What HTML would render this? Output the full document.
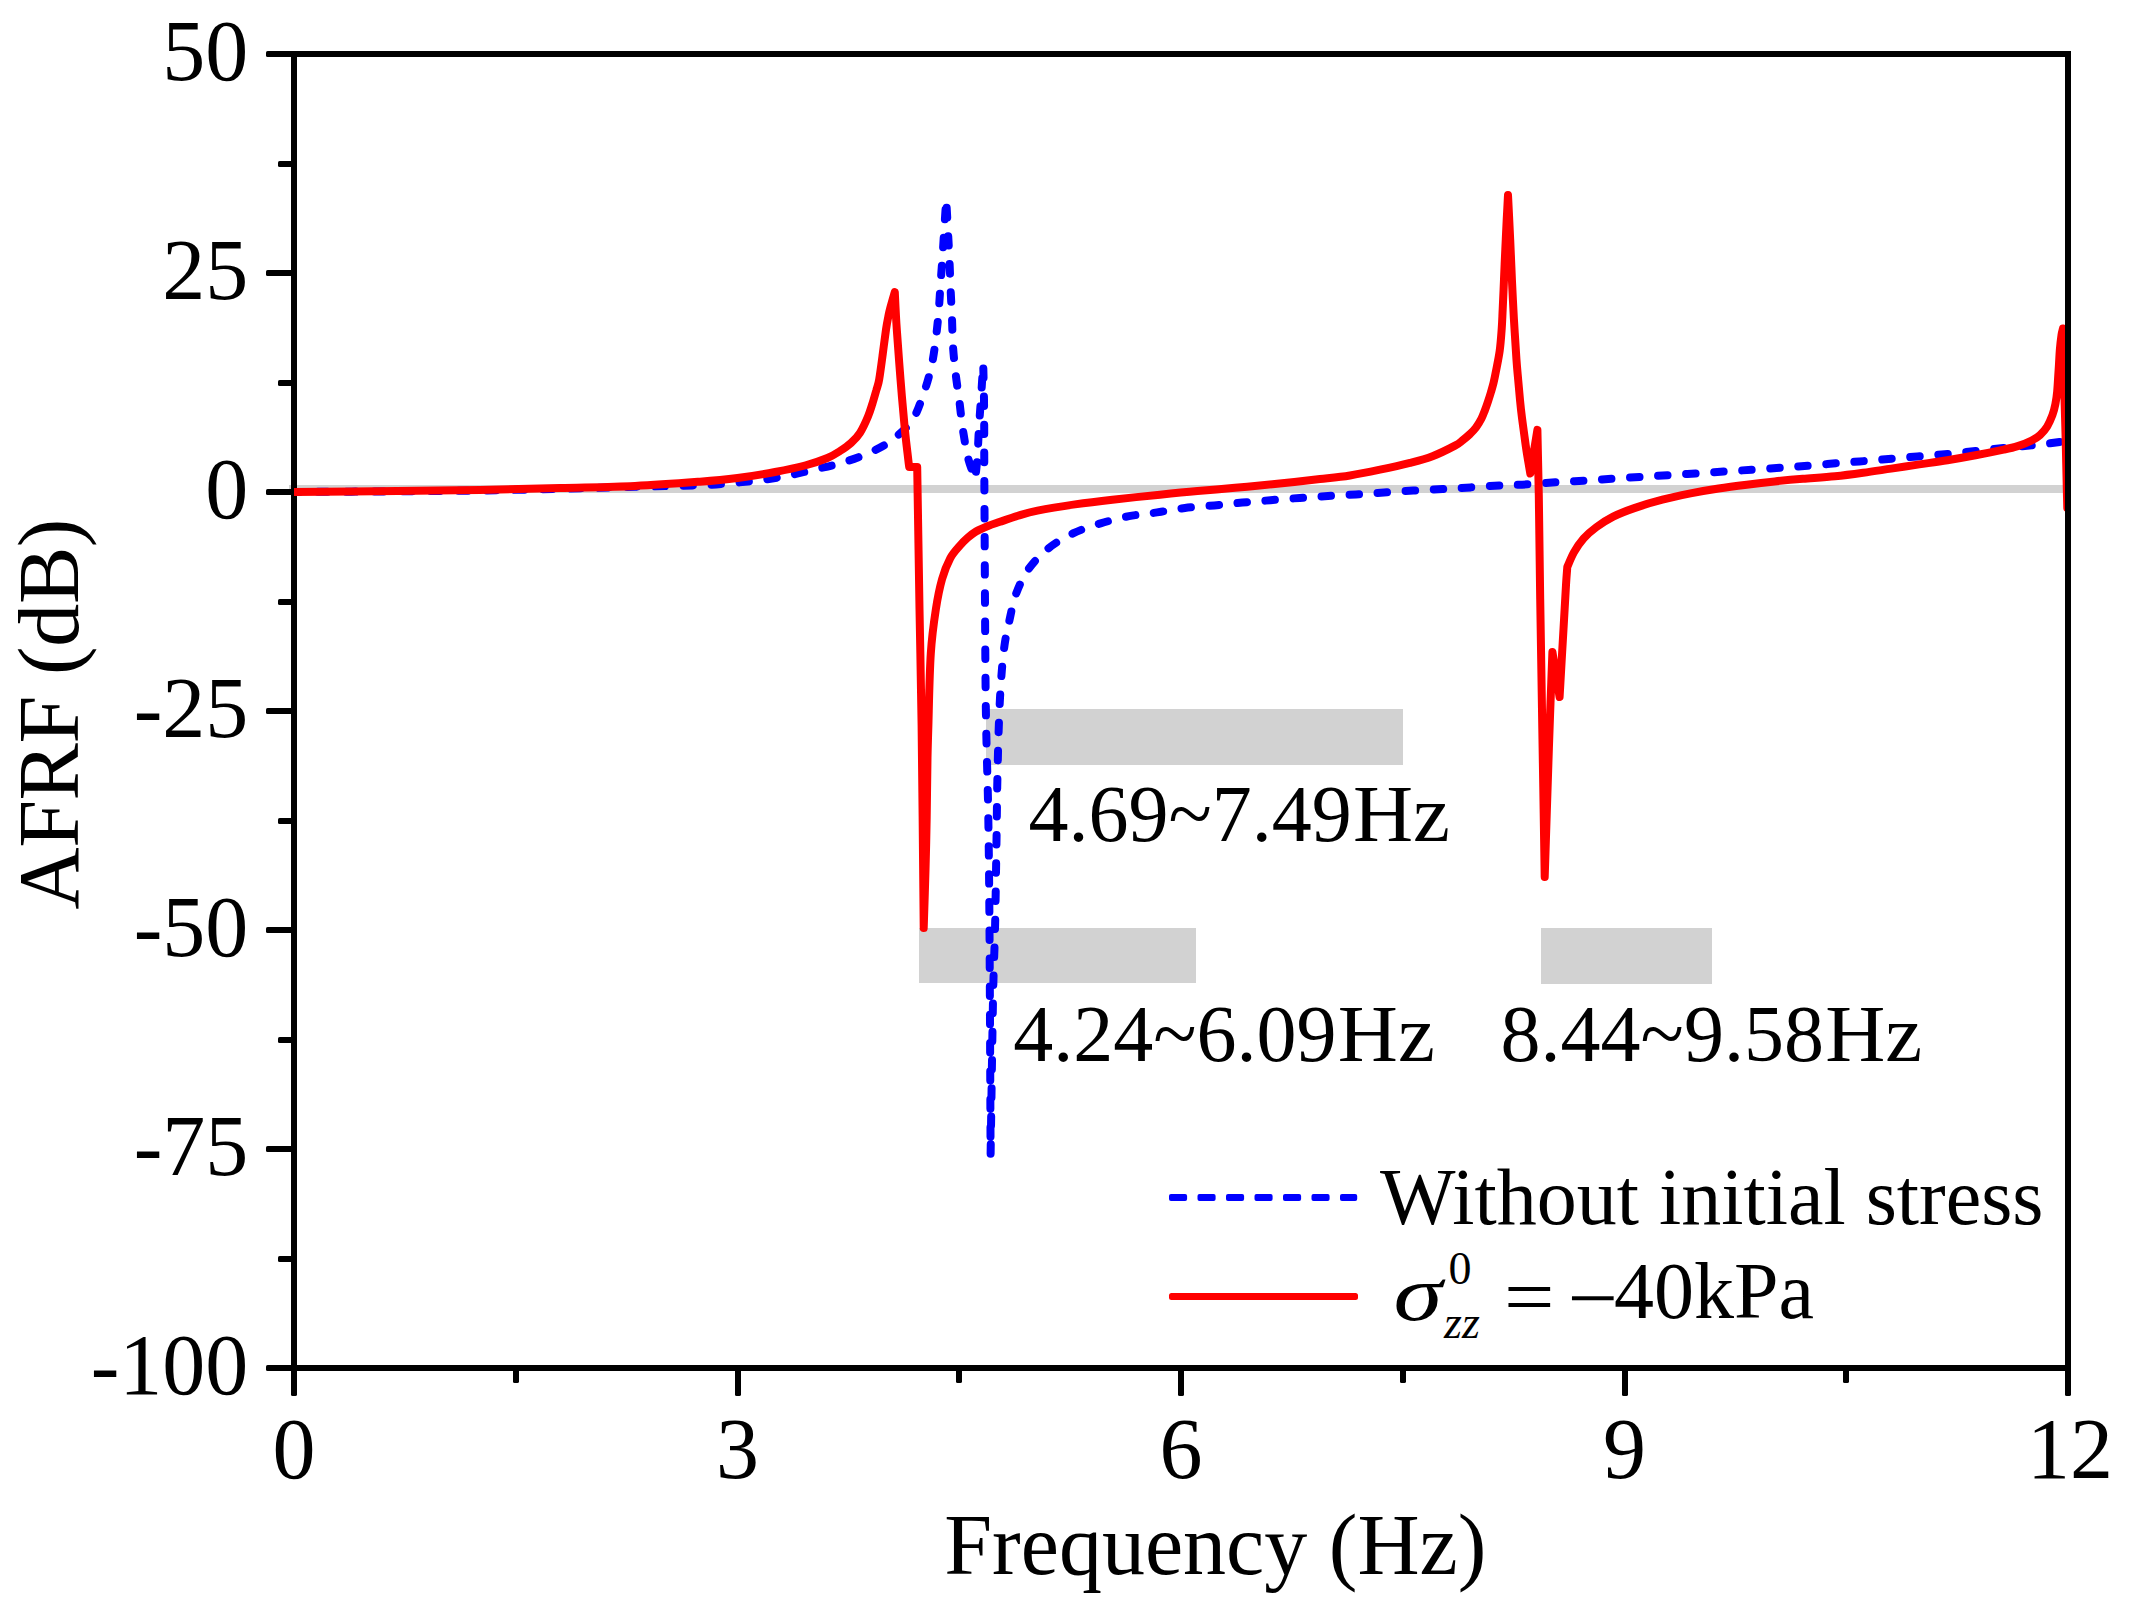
<!DOCTYPE html>
<html lang="en"><head><meta charset="utf-8"><title>AFRF vs Frequency</title>
<style>html,body{margin:0;padding:0;background:#fff;}svg{display:block;}text{font-family:'Liberation Serif', serif;fill:#000;}</style></head><body>
<svg width="2135" height="1612" viewBox="0 0 2135 1612">
<rect x="0" y="0" width="2135" height="1612" fill="#fff"/>
<g fill="#d2d2d2" shape-rendering="crispEdges">
<rect x="289" y="485" width="1779" height="8"/>
<rect x="986" y="709" width="416.5" height="55.5"/>
<rect x="919" y="928" width="277" height="55"/>
<rect x="1541" y="928" width="171" height="55.5"/>
</g>
<g fill="#000">
<rect x="291" y="51" width="6" height="1320"/>
<rect x="291" y="1365" width="1780" height="6"/>
<rect x="266" y="51" width="28" height="6" rx="1.6"/>
<rect x="278" y="161" width="16" height="6" rx="1.6"/>
<rect x="266" y="270" width="28" height="6" rx="1.6"/>
<rect x="278" y="380" width="16" height="6" rx="1.6"/>
<rect x="266" y="489" width="28" height="6" rx="1.6"/>
<rect x="278" y="599" width="16" height="6" rx="1.6"/>
<rect x="266" y="708" width="28" height="6" rx="1.6"/>
<rect x="278" y="818" width="16" height="6" rx="1.6"/>
<rect x="266" y="927" width="28" height="6" rx="1.6"/>
<rect x="278" y="1037" width="16" height="6" rx="1.6"/>
<rect x="266" y="1146" width="28" height="6" rx="1.6"/>
<rect x="278" y="1256" width="16" height="6" rx="1.6"/>
<rect x="266" y="1365" width="28" height="6" rx="1.6"/>
<rect x="291" y="1368" width="6" height="28" rx="1.6"/>
<rect x="513" y="1368" width="6" height="15" rx="1.6"/>
<rect x="735" y="1368" width="6" height="28" rx="1.6"/>
<rect x="956" y="1368" width="6" height="15" rx="1.6"/>
<rect x="1178" y="1368" width="6" height="28" rx="1.6"/>
<rect x="1400" y="1368" width="6" height="15" rx="1.6"/>
<rect x="1622" y="1368" width="6" height="28" rx="1.6"/>
<rect x="1843" y="1368" width="6" height="15" rx="1.6"/>
<rect x="2065" y="1368" width="6" height="28" rx="1.6"/>
</g>
<clipPath id="pc"><rect x="294" y="54" width="1777" height="1314"/></clipPath>
<g clip-path="url(#pc)" fill="none" stroke-linecap="round" stroke-linejoin="round" stroke-width="8">
<path d="M290.0 492.0 C307.8 491.9 365.3 491.6 397.0 491.3 C428.7 491.1 452.8 490.9 480.0 490.5 C507.2 490.1 534.2 489.4 560.0 488.8 C585.8 488.2 611.7 487.4 635.0 486.8 C658.3 486.2 684.0 485.8 700.0 485.2 C716.0 484.6 721.0 483.9 730.7 483.1 C740.5 482.3 749.2 481.6 758.5 480.4 C767.8 479.2 777.0 477.8 786.2 476.0 C795.5 474.2 804.7 471.8 814.0 469.6 C823.3 467.4 832.9 465.6 842.0 462.8 C851.1 460.0 860.5 456.7 868.7 453.0 C876.9 449.3 883.8 446.2 891.0 440.8 C898.2 435.4 906.6 428.2 912.0 420.5 C917.4 412.8 920.1 403.3 923.3 394.4 C926.5 385.5 929.2 376.1 931.3 367.0 C933.4 357.9 934.5 349.1 935.7 339.8 C936.9 330.5 937.9 321.0 938.7 311.3 C939.5 301.6 940.0 291.1 940.7 281.5 C941.4 271.9 942.1 263.1 942.7 254.0 C943.3 244.9 943.8 236.1 944.4 227.0 C945.0 217.9 945.9 204.2 946.2 199.6 C946.5 205.0 947.5 222.1 948.0 232.0 C948.5 241.9 949.0 249.5 949.4 259.0 C949.8 268.5 950.2 279.5 950.6 289.0 C951.0 298.5 951.5 306.5 951.9 316.0 C952.3 325.5 952.4 336.4 953.0 346.0 C953.6 355.6 954.6 364.2 955.6 373.3 C956.6 382.4 958.1 391.1 959.3 400.6 C960.5 410.1 961.5 420.9 963.0 430.4 C964.5 439.9 966.0 449.6 968.0 457.7 C970.0 465.8 974.0 475.5 975.2 479.1 C975.6 475.2 976.9 464.7 977.5 456.0 C978.1 447.3 978.4 436.7 979.0 427.0 C979.6 417.3 980.3 408.5 981.0 398.0 C981.7 387.5 982.8 369.7 983.2 364.0 C983.4 371.5 983.9 388.0 984.1 409.0 C984.3 430.0 984.1 441.8 984.4 490.0 C984.7 538.2 985.1 643.5 985.7 698.0 C986.4 752.5 987.7 778.3 988.3 817.0 C988.9 855.7 989.1 873.8 989.5 930.0 C989.9 986.2 990.4 1117.1 990.6 1154.5 C991.0 1128.8 992.3 1037.4 993.0 1000.0 C993.7 962.6 994.4 955.5 995.0 930.0 C995.6 904.5 996.0 870.7 996.4 847.0 C996.8 823.3 996.9 806.7 997.2 788.0 C997.6 769.3 998.0 750.0 998.5 735.0 C999.0 720.0 999.4 709.1 1000.0 698.0 C1000.6 686.9 1001.2 677.8 1002.0 668.5 C1002.8 659.2 1003.8 649.9 1005.0 642.0 C1006.2 634.1 1007.5 629.0 1009.3 621.0 C1011.1 613.0 1012.8 602.7 1016.0 594.0 C1019.2 585.3 1023.2 576.6 1028.6 569.0 C1034.0 561.4 1040.8 554.4 1048.3 548.4 C1055.8 542.4 1064.8 537.4 1073.5 533.2 C1082.2 529.0 1091.3 526.2 1100.6 523.4 C1109.8 520.6 1119.6 518.0 1129.0 516.2 C1138.4 514.4 1147.7 513.8 1157.0 512.4 C1166.3 511.0 1175.5 509.2 1185.0 508.0 C1194.5 506.8 1204.7 506.3 1214.3 505.4 C1223.9 504.5 1233.0 503.5 1242.4 502.6 C1251.8 501.7 1260.9 501.0 1270.5 500.2 C1280.1 499.4 1290.2 498.6 1299.8 497.9 C1309.4 497.2 1318.5 496.6 1327.9 496.0 C1337.3 495.4 1346.7 495.0 1356.0 494.4 C1365.3 493.8 1374.5 493.1 1384.0 492.5 C1393.5 491.9 1403.5 491.2 1413.3 490.6 C1423.1 490.0 1433.0 489.5 1442.6 489.0 C1452.2 488.5 1461.1 488.0 1470.7 487.4 C1480.3 486.8 1490.5 486.0 1500.0 485.5 C1509.5 485.0 1518.0 484.9 1527.5 484.3 C1537.0 483.8 1547.4 482.8 1557.0 482.2 C1566.6 481.6 1575.7 481.3 1585.1 480.7 C1594.5 480.1 1603.7 479.2 1613.2 478.6 C1622.7 478.0 1632.5 477.4 1642.0 476.8 C1651.5 476.2 1660.6 475.7 1670.1 475.1 C1679.6 474.5 1689.4 473.9 1699.0 473.3 C1708.6 472.7 1718.2 471.9 1727.7 471.3 C1737.2 470.7 1746.3 470.1 1755.8 469.5 C1765.3 468.9 1775.1 468.1 1784.6 467.4 C1794.1 466.7 1803.1 466.1 1812.7 465.3 C1822.3 464.5 1832.4 463.6 1842.0 462.8 C1851.6 462.0 1860.7 461.4 1870.1 460.6 C1879.5 459.8 1888.7 458.9 1898.2 458.1 C1907.7 457.3 1917.4 456.5 1927.0 455.7 C1936.6 454.9 1946.1 454.1 1955.6 453.2 C1965.1 452.3 1974.5 451.1 1984.0 450.1 C1993.5 449.1 2003.1 448.1 2012.7 447.1 C2022.3 446.2 2032.6 445.4 2041.5 444.4 C2050.4 443.4 2061.9 441.6 2066.0 441.0" stroke="#0000ff" stroke-dasharray="9.5 18.6"/>
<path d="M290.0 492.0 C307.8 491.8 365.3 491.3 397.0 491.0 C428.7 490.7 452.8 490.5 480.0 490.0 C507.2 489.5 534.2 488.8 560.0 488.1 C585.8 487.4 611.7 487.1 635.0 486.0 C658.3 484.9 682.9 483.0 700.0 481.7 C717.1 480.4 725.0 479.6 737.5 478.0 C750.0 476.4 763.8 474.1 775.0 472.0 C786.2 469.9 796.3 467.8 805.0 465.5 C813.7 463.2 821.6 460.4 827.4 458.0 C833.2 455.6 836.1 453.5 840.0 451.0 C843.9 448.5 847.7 446.0 851.0 443.0 C854.3 440.0 857.2 437.2 860.0 432.8 C862.8 428.4 866.0 421.3 868.0 416.5 C870.0 411.7 870.9 408.4 872.3 404.0 C873.7 399.6 875.2 394.1 876.4 390.0 C877.5 385.9 878.2 385.2 879.2 379.3 C880.2 373.4 881.6 362.7 882.7 354.4 C883.8 346.1 885.1 335.8 886.0 329.6 C886.9 323.4 887.5 320.6 888.2 317.2 C888.9 313.8 888.9 313.2 890.0 309.0 C891.1 304.8 894.0 294.8 894.8 292.0 C895.1 298.3 895.8 315.1 896.8 329.6 C897.8 344.2 899.2 362.8 900.5 379.3 C901.8 395.9 903.5 415.5 904.8 428.9 C906.1 442.3 907.6 453.5 908.3 459.9 C909.0 466.2 909.1 465.8 909.2 467.0 L917.2 467.0 C917.6 490.7 918.8 566.0 919.5 609.0 C920.2 652.0 920.9 671.8 921.6 725.0 C922.3 778.2 923.4 894.2 923.7 928.0 C924.0 918.3 925.0 888.5 925.5 870.0 C926.0 851.5 926.4 835.7 926.7 817.0 C927.0 798.3 927.2 773.3 927.5 758.0 C927.8 742.7 927.9 742.4 928.4 725.0 C928.9 707.6 929.5 672.9 930.8 653.6 C932.0 634.3 934.0 621.4 935.9 609.0 C937.8 596.6 939.7 587.5 942.1 579.0 C944.5 570.5 947.2 563.9 950.2 558.3 C953.2 552.7 957.1 548.9 960.0 545.5 C962.9 542.1 964.7 540.3 967.4 538.0 C970.1 535.7 972.6 533.5 976.0 531.5 C979.4 529.5 984.0 527.6 988.0 526.0 C992.0 524.4 995.0 523.5 1000.0 521.8 C1005.0 520.1 1011.8 517.7 1018.0 515.8 C1024.2 513.9 1028.0 512.5 1037.5 510.6 C1047.0 508.7 1062.5 506.2 1075.0 504.4 C1087.5 502.6 1098.2 501.3 1112.4 499.7 C1126.6 498.1 1145.8 496.1 1160.0 494.7 C1174.2 493.2 1185.0 492.1 1197.5 491.0 C1210.0 489.9 1222.5 488.9 1235.0 487.8 C1247.5 486.7 1258.2 485.6 1272.4 484.2 C1286.6 482.8 1307.1 480.6 1320.0 479.1 C1332.9 477.7 1340.0 477.1 1350.0 475.5 C1360.0 473.9 1370.0 471.8 1380.0 469.7 C1390.0 467.6 1401.2 465.1 1410.0 462.8 C1418.8 460.6 1425.0 459.1 1432.5 456.2 C1440.0 453.3 1449.9 448.3 1455.0 445.6 C1460.1 442.9 1460.5 441.9 1463.0 440.0 C1465.5 438.1 1467.8 436.1 1470.0 434.0 C1472.2 431.9 1474.1 430.1 1476.0 427.5 C1477.9 424.9 1480.0 421.4 1481.5 418.5 C1483.0 415.6 1483.9 412.8 1485.0 410.0 C1486.1 407.2 1487.0 404.5 1488.0 401.5 C1489.0 398.5 1490.1 395.1 1491.0 392.0 C1491.9 388.9 1492.7 386.2 1493.5 383.0 C1494.3 379.8 1494.7 378.0 1495.7 372.6 C1496.7 367.2 1498.7 358.0 1499.7 350.7 C1500.7 343.4 1501.2 335.8 1501.7 328.9 C1502.2 321.9 1502.3 317.3 1502.7 309.0 C1503.1 300.7 1503.6 289.2 1504.0 279.3 C1504.4 269.4 1504.8 259.4 1505.3 249.5 C1505.8 239.6 1506.2 228.8 1506.7 219.7 C1507.2 210.6 1507.8 199.1 1508.0 195.0 C1508.4 202.4 1509.5 225.5 1510.2 239.6 C1510.9 253.7 1511.3 266.1 1511.9 279.3 C1512.5 292.5 1513.2 305.8 1513.9 319.0 C1514.7 332.2 1515.7 348.5 1516.4 358.7 C1517.1 368.9 1517.6 373.1 1518.2 380.0 C1518.8 386.9 1519.4 393.7 1520.0 400.0 C1520.6 406.3 1521.2 411.9 1522.0 418.0 C1522.8 424.1 1523.7 430.5 1524.5 436.5 C1525.3 442.5 1526.0 447.8 1527.0 454.0 C1528.0 460.2 1529.8 470.2 1530.3 473.5 L1537.4 429.9 C1537.6 440.8 1538.3 466.8 1538.8 495.0 C1539.3 523.2 1539.6 561.0 1540.2 599.0 C1540.8 637.0 1541.5 676.7 1542.2 723.0 C1543.0 769.3 1544.3 851.3 1544.7 877.0 C1545.4 855.5 1547.9 777.0 1548.9 748.0 C1549.9 719.0 1549.9 719.0 1550.5 703.0 C1551.1 687.0 1552.1 660.5 1552.4 652.0 L1559.6 697.0 C1560.2 685.7 1562.4 647.7 1563.5 629.0 C1564.6 610.3 1565.4 595.3 1566.0 585.0 C1566.6 574.7 1567.1 570.0 1567.3 567.0 C1568.4 564.6 1571.2 557.2 1573.9 552.4 C1576.6 547.6 1580.0 542.6 1583.7 538.4 C1587.5 534.2 1591.5 530.7 1596.4 527.1 C1601.3 523.5 1606.9 519.8 1613.2 516.6 C1619.5 513.4 1626.1 510.9 1634.3 508.1 C1642.5 505.3 1653.0 502.1 1662.4 499.7 C1671.8 497.2 1681.1 495.3 1690.5 493.4 C1699.9 491.5 1709.2 489.9 1718.6 488.5 C1728.0 487.1 1737.3 485.9 1746.7 484.7 C1756.1 483.5 1765.4 482.4 1774.8 481.4 C1784.2 480.4 1792.9 479.6 1802.9 478.8 C1812.9 478.0 1825.0 477.3 1835.0 476.3 C1845.0 475.3 1853.7 474.1 1863.1 472.8 C1872.5 471.5 1881.8 470.0 1891.2 468.6 C1900.6 467.2 1909.9 465.8 1919.3 464.4 C1928.7 463.0 1938.0 461.7 1947.4 460.2 C1956.8 458.7 1966.1 457.1 1975.5 455.3 C1984.9 453.5 1996.6 451.1 2003.6 449.6 C2010.6 448.1 2013.0 447.6 2017.7 446.1 C2022.4 444.6 2028.0 442.4 2031.7 440.5 C2035.4 438.6 2037.5 437.2 2040.1 434.9 C2042.7 432.6 2045.2 429.8 2047.2 426.5 C2049.2 423.2 2051.0 418.9 2052.4 415.2 C2053.8 411.4 2054.6 408.0 2055.4 404.0 C2056.2 400.0 2056.7 396.9 2057.2 391.3 C2057.7 385.7 2058.1 377.3 2058.6 370.3 C2059.1 363.3 2059.4 355.1 2059.9 349.2 C2060.4 343.3 2061.0 338.6 2061.5 335.1 C2062.0 331.7 2062.8 329.6 2063.0 328.5 C2063.2 338.9 2063.9 372.3 2064.3 391.0 C2064.8 409.7 2065.2 422.8 2065.7 440.5 C2066.1 458.2 2066.7 485.8 2067.0 497.0 C2067.3 508.2 2067.2 506.2 2067.3 508.0" stroke="#ff0000"/>
</g>
<g fill="#0000ff">
<rect x="1169.0" y="1194" width="18.1" height="7" rx="2"/>
<rect x="1197.5" y="1194" width="18.1" height="7" rx="2"/>
<rect x="1226.0" y="1194" width="18.1" height="7" rx="2"/>
<rect x="1254.5" y="1194" width="18.1" height="7" rx="2"/>
<rect x="1283.0" y="1194" width="18.1" height="7" rx="2"/>
<rect x="1311.5" y="1194" width="18.1" height="7" rx="2"/>
<rect x="1340.0" y="1194" width="17.2" height="7" rx="2"/>
</g>
<rect x="1169" y="1293" width="189" height="7" rx="2.5" fill="#ff0000"/>
<g fill="#000">
<rect x="291" y="51" width="1780" height="6"/>
<rect x="2065" y="51" width="6" height="1320"/>
</g>
<g font-size="86" text-anchor="end">
<text x="248.3" y="79.8">50</text>
<text x="248.3" y="298.8">25</text>
<text x="248.3" y="517.8">0</text>
<text x="248.3" y="736.8">-25</text>
<text x="248.3" y="955.8">-50</text>
<text x="248.3" y="1174.8">-75</text>
<text x="248.3" y="1393.8">-100</text>
</g>
<g font-size="86" text-anchor="middle">
<text x="294" y="1478">0</text>
<text x="737.5" y="1478">3</text>
<text x="1181" y="1478">6</text>
<text x="1624.5" y="1478">9</text>
<text x="2070" y="1478">12</text>
</g>
<text x="1215.3" y="1574" font-size="86" text-anchor="middle">Frequency (Hz)</text>
<text transform="translate(77.8 714) rotate(-90)" font-size="86" text-anchor="middle" textLength="391" lengthAdjust="spacing">AFRF (dB)</text>
<g font-size="80">
<text x="1028.4" y="841">4.69~7.49</text>
<text transform="translate(1353 841) scale(1.04 1)">Hz</text>
<text x="1013.2" y="1061">4.24~6.09</text>
<text transform="translate(1337.8 1061) scale(1.04 1)">Hz</text>
<text x="1500.6" y="1061.3">8.44~9.58</text>
<text transform="translate(1825.2 1061.3) scale(1.04 1)">Hz</text>
<text x="1380" y="1223.5">Without initial stress</text>
<text transform="translate(1393.5 1319.5) scale(1.27 1)" font-style="italic" font-size="78">σ</text>
<text x="1448.5" y="1284" font-size="46">0</text>
<text x="1444" y="1338" font-size="46" font-style="italic">zz</text>
<text transform="translate(1504 1323.5) scale(1.12 1)">=</text>
<text transform="translate(1567.6 1325) scale(1.12 1)">−</text>
<text x="1614" y="1317.5">40kPa</text>
</g>
</svg></body></html>
